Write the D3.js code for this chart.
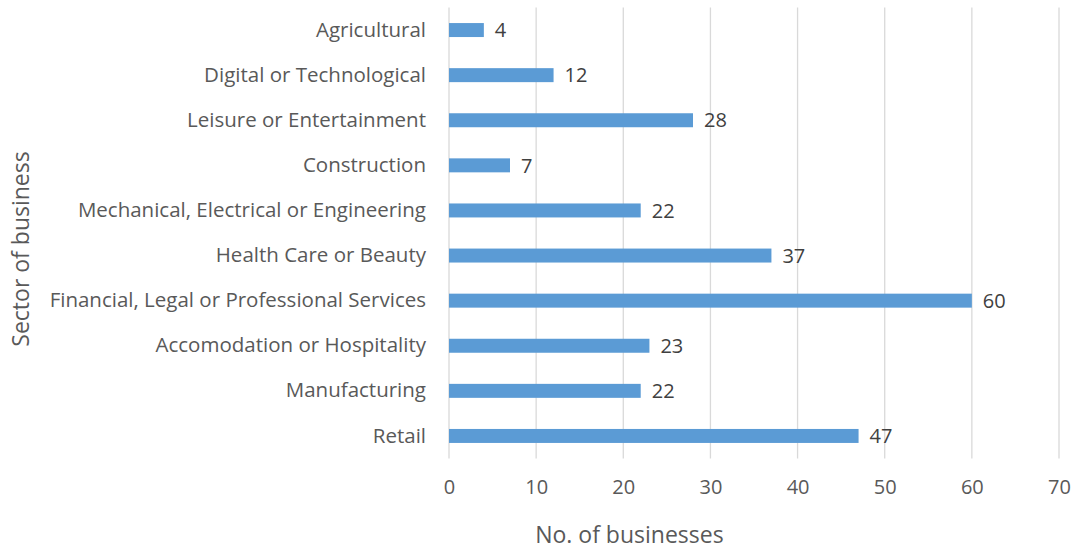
<!DOCTYPE html>
<html>
<head>
<meta charset="utf-8">
<script src="https://cdn.jsdelivr.net/npm/d3@7"></script>
<style>
  body { margin: 0; background: #fff; }
  text { font-family: "Open Sans", "Liberation Sans", sans-serif; }
</style>
</head>
<body>
<svg id="chart" width="1077" height="549"></svg>
<script>
// Sectors listed top to bottom, with the number of businesses in each
const sectors = [
  "Agricultural",
  "Digital or Technological",
  "Leisure or Entertainment",
  "Construction",
  "Mechanical, Electrical or Engineering",
  "Health Care or Beauty",
  "Financial, Legal or Professional Services",
  "Accomodation or Hospitality ",
  "Manufacturing",
  "Retail"
];
const counts = [4, 12, 28, 7, 22, 37, 60, 23, 22, 47];
const xTicks = [0, 10, 20, 30, 40, 50, 60, 70];

const svg = d3.select("#chart");
const plotLeft = 449, plotRight = 1059, plotTop = 7.5, plotBottom = 458.5;

const x = d3.scaleLinear().domain([0, 70]).range([plotLeft, plotRight]);
const y = d3.scaleBand().domain(sectors).range([plotTop, plotBottom]).paddingInner(0.69).paddingOuter(0.345);

// vertical gridlines
svg.append("g").selectAll("line").data(xTicks).join("line")
  .attr("x1", d => x(d)).attr("x2", d => x(d))
  .attr("y1", plotTop).attr("y2", plotBottom)
  .attr("stroke", "#d9d9d9").attr("stroke-width", 1.3);

// bars
svg.append("g").selectAll("rect").data(sectors).join("rect")
  .attr("x", x(0))
  .attr("y", d => y(d))
  .attr("width", (d, i) => x(counts[i]) - x(0))
  .attr("height", y.bandwidth())
  .attr("fill", "#5b9bd5");

// value labels
svg.append("g").selectAll("text").data(sectors).join("text")
  .attr("x", (d, i) => x(counts[i]) + 11)
  .attr("y", d => y(d) + y.bandwidth() / 2)
  .attr("dy", "0.36em")
  .attr("font-size", 20)
  .attr("fill", "#404040")
  .text((d, i) => counts[i]);

// category axis
const yAxis = svg.append("g")
  .attr("transform", `translate(${plotLeft},0)`)
  .call(d3.axisLeft(y).tickSize(0).tickPadding(23));
yAxis.select(".domain").remove();
yAxis.selectAll("text").attr("font-size", 20.5).attr("fill", "#595959")
  .style("font-family", '"Open Sans", sans-serif');

// value axis
const xAxis = svg.append("g")
  .attr("transform", `translate(0,${plotBottom})`)
  .call(d3.axisBottom(x).tickValues(xTicks).tickSize(0).tickPadding(21));
xAxis.select(".domain").remove();
xAxis.selectAll("text").attr("font-size", 20).attr("fill", "#595959")
  .style("font-family", '"Open Sans", sans-serif');

// axis titles
svg.append("text")
  .attr("x", x(20.7)).attr("y", 543)
  .attr("text-anchor", "middle")
  .attr("font-size", 23).attr("fill", "#595959")
  .text("No. of businesses");

svg.append("text")
  .attr("transform", "translate(29,249) rotate(-90)")
  .attr("text-anchor", "middle")
  .attr("font-size", 23).attr("fill", "#595959")
  .text("Sector of business");
</script>
</body>
</html>
